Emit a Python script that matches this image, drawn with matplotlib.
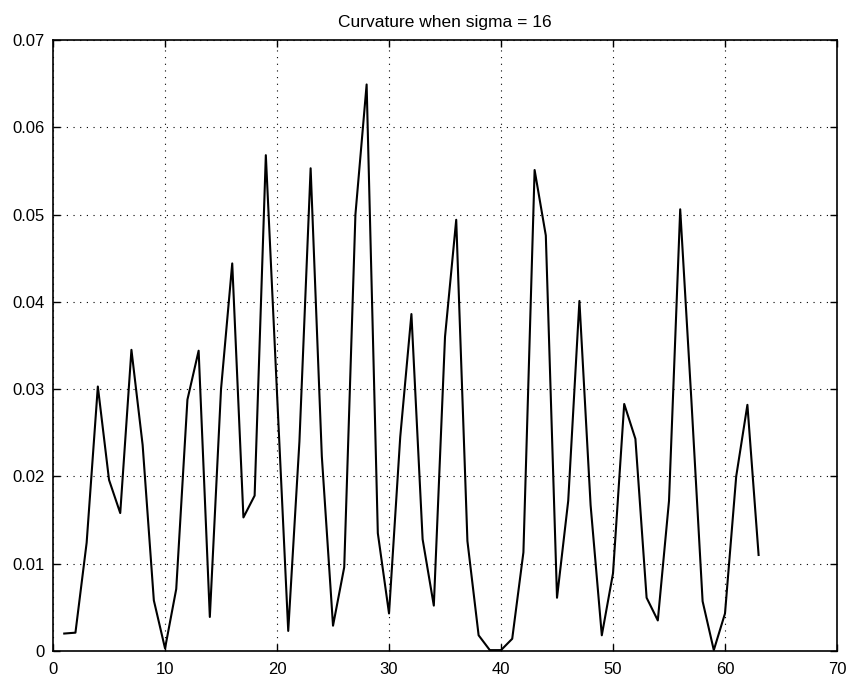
import matplotlib
matplotlib.use('Agg')
import matplotlib.pyplot as plt

plt.rcParams['font.family'] = ['Liberation Sans', 'DejaVu Sans']

# curvature samples, index 1..63
idx = list(range(1, 64))
curvature = [0.0020, 0.0021, 0.0124, 0.0303, 0.0196, 0.0158, 0.0345, 0.0236, 0.0058, 0.0003,
             0.0071, 0.0288, 0.0344, 0.0039, 0.0300, 0.0444, 0.0153, 0.0178, 0.0568, 0.0295,
             0.0023, 0.0240, 0.0553, 0.0223, 0.0029, 0.0096, 0.0500, 0.0649, 0.0135, 0.0043,
             0.0245, 0.0386, 0.0128, 0.0052, 0.0360, 0.0494, 0.0126, 0.0018, 0.0001, 0.0001,
             0.0014, 0.0113, 0.0551, 0.0476, 0.0061, 0.0172, 0.0401, 0.0167, 0.0018, 0.0089,
             0.0283, 0.0243, 0.0061, 0.0035, 0.0172, 0.0506, 0.0287, 0.0057, 0.0001, 0.0043,
             0.0200, 0.0282, 0.0110]

xticks = list(range(0, 71, 10))
yticks = [0, 0.01, 0.02, 0.03, 0.04, 0.05, 0.06, 0.07]
ytick_labels = ['0', '0.01', '0.02', '0.03', '0.04', '0.05', '0.06', '0.07']

fig = plt.figure(figsize=(8.5, 6.77), dpi=100)
ax = fig.add_axes([0.0624, 0.0384, 0.9223, 0.9026])

ax.plot(idx, curvature, color='black', linewidth=1.5)

ax.set_xlim(0, 70)
ax.set_ylim(0, 0.07)
ax.set_xticks(xticks)
ax.set_yticks(yticks)
ax.set_yticklabels(ytick_labels)
ax.tick_params(direction='in', length=5, width=1, top=True, right=True,
               labelsize=12, colors='black')
ax.tick_params(axis='x', pad=8)
ax.tick_params(axis='y', pad=6)
for s in ax.spines.values():
    s.set_linewidth(1.2)

ax.grid(True, color='black', linestyle=(0, (1, 5)), linewidth=0.8)
ax.set_title('Curvature when sigma = 16', fontsize=12.5, pad=9)

fig.savefig('out.png', dpi=100)
